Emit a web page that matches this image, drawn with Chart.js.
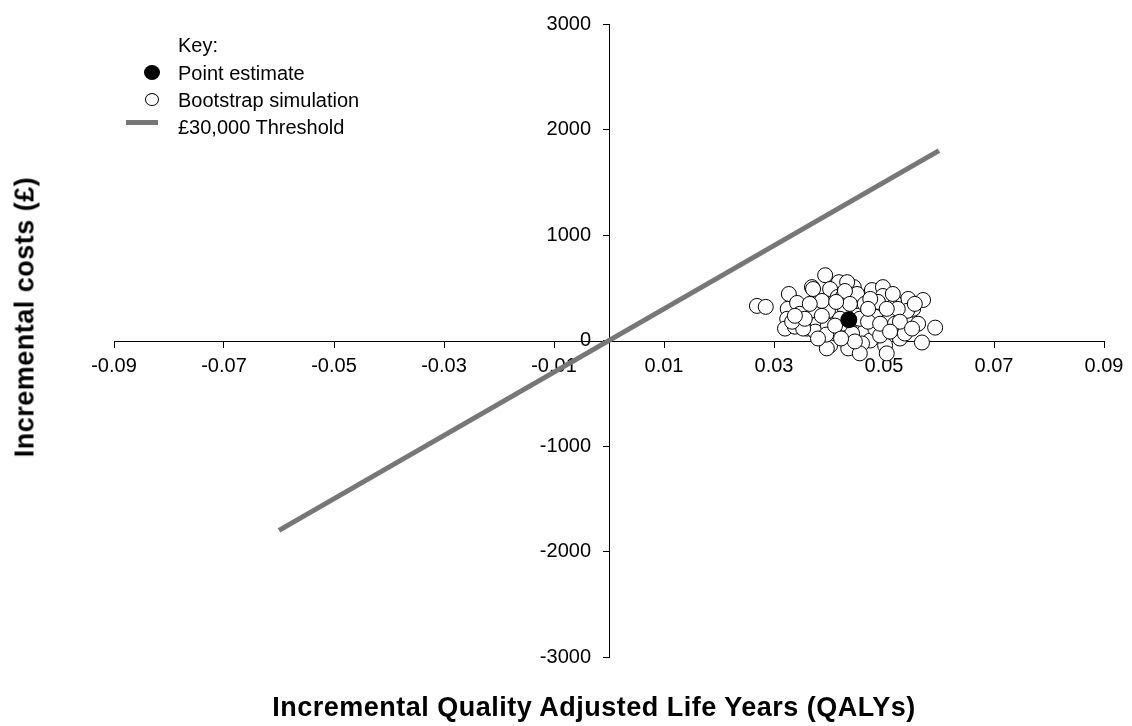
<!DOCTYPE html>
<html>
<head>
<meta charset="utf-8">
<script src="https://cdn.jsdelivr.net/npm/chart.js@4.4.1/dist/chart.umd.min.js"></script>
<style>
  body { margin: 0; background: #fff; }
  #wrap { position: relative; width: 1132px; height: 726px; font-family: "Liberation Sans", Arial, sans-serif; color: #000; }
  #plot { position: absolute; left: 0; top: 0; }
  .ttl { position: absolute; font-weight: bold; font-size: 27px; letter-spacing: 0.5px; white-space: nowrap; }
  #xTitle { left: 594px; top: 707px; transform: translate(-50%, -50%); }
  #yTitle { left: 25px; top: 317px; transform: translate(-50%, -50%) rotate(-90deg); }
  #key { position: absolute; left: 0; top: 0; font-size: 20px; }
  #key div { position: absolute; white-space: nowrap; }
  .sym { position: absolute; box-sizing: border-box; }
</style>
</head>
<body>
<div id="wrap">
  <canvas id="plot" width="1132" height="726"></canvas>
  <div class="ttl" id="xTitle">Incremental Quality Adjusted Life Years (QALYs)</div>
  <div class="ttl" id="yTitle">Incremental costs (£)</div>
  <div id="key"></div>
</div>
<script>
// Cost-effectiveness plane: bootstrap cloud, point estimate, £30,000 threshold line.
const xTicks = [-0.09, -0.07, -0.05, -0.03, -0.01, 0.01, 0.03, 0.05, 0.07, 0.09];
const yTicks = [-3000, -2000, -1000, 0, 1000, 2000, 3000];

const pointEstimateX = [0.0436];
const pointEstimateY = [197];

const bootX = [
  0.0269, 0.0285, 0.0393, 0.0327, 0.0369, 0.0418, 0.0402, 0.0445, 0.0478, 0.0498,
  0.0544, 0.0571, 0.0553, 0.0518, 0.0498, 0.0451, 0.0416, 0.0325, 0.0342, 0.0375,
  0.0324, 0.0320, 0.0338, 0.0360, 0.0380, 0.0402, 0.0415, 0.0398, 0.0402, 0.0402,
  0.0451, 0.0465, 0.0475, 0.0496, 0.0502, 0.0505, 0.0529, 0.0542, 0.0562, 0.0569,
  0.0593, 0.0511, 0.0487, 0.0438, 0.0456, 0.0425, 0.0375, 0.0451, 0.0516, 0.0542,
  0.0371, 0.0425, 0.0353, 0.0398, 0.0396, 0.0442, 0.0433, 0.0520, 0.0484, 0.0387,
  0.0429, 0.0465, 0.0489, 0.0347, 0.0411, 0.0460, 0.0435, 0.0484, 0.0420, 0.0471,
  0.0525, 0.0365, 0.0395, 0.0429, 0.0493, 0.0538, 0.0333, 0.0380, 0.0475, 0.0505,
  0.0438, 0.0556, 0.0456, 0.0413, 0.0356, 0.0387, 0.0411, 0.0471, 0.0493, 0.0529,
  0.0551, 0.0447, 0.0422, 0.0338, 0.0511
];
const bootY = [
  328, 319, 619, 441, 506, 553, 488, 506, 478, 506,
  394, 384, 300, 375, 422, 375, 413, 300, 356, 281,
  206, 113, 131, 113, 159, 169, 300, 281, 0, -47,
  84, 84, 0, 178, -47, -122, 19, 169, 159, -19,
  122, 234, 281, 94, 206, 159, 84, 441, 441, 281,
  488, 413, 113, 141, -75, 66, 553, 159, 225, 375,
  300, 347, 366, 253, 66, -28, -75, 113, 206, 178,
  300, 347, 56, 469, 47, 66, 178, 19, 394, 300,
  347, 347, -122, 366, 206, 234, 141, 300, 159, 178,
  113, -9, 19, 234, 84
];

const thresholdX = [-0.06, 0.06];
const thresholdY = [-1800, 1800];

const toPoints = (xs, ys) => xs.map((x, i) => ({ x, y: ys[i] }));

const datasets = [
  {
    label: "Point estimate",
    data: toPoints(pointEstimateX, pointEstimateY),
    backgroundColor: "#000",
    borderColor: "#000",
    pointRadius: 8,
    borderWidth: 1,
    order: 0,
  },
  {
    label: "Bootstrap simulation",
    data: toPoints(bootX, bootY),
    backgroundColor: "#fff",
    borderColor: "#000",
    pointRadius: 7.5,
    borderWidth: 1,
    order: 1,
  },
  {
    label: "£30,000 Threshold",
    type: "line",
    data: toPoints(thresholdX, thresholdY),
    borderColor: "#777777",
    borderWidth: 5,
    pointRadius: 0,
    fill: false,
    order: 2,
  },
];

const tickFont = { family: "'Liberation Sans', Arial, sans-serif", size: 20 };

new Chart(document.getElementById("plot"), {
  type: "scatter",
  data: { datasets },
  options: {
    responsive: false,
    animation: false,
    layout: { padding: { left: 114, right: 28, top: 17, bottom: 69 } },
    plugins: { legend: { display: false }, tooltip: { enabled: false } },
    scales: {
      x: {
        type: "linear",
        position: "center",
        min: -0.09,
        max: 0.09,
        afterBuildTicks: s => { s.ticks = xTicks.map(v => ({ value: v })); },
        ticks: { color: "#000", font: tickFont, padding: 8, maxRotation: 0, autoSkip: false,
                 callback: v => v.toFixed(2) },
        grid: { drawOnChartArea: false, drawTicks: true, tickLength: 6, tickColor: "#000", tickWidth: 1 },
        border: { display: true, color: "#000", width: 1 },
      },
      y: {
        type: "linear",
        position: "center",
        min: -3000,
        max: 3000,
        afterBuildTicks: s => { s.ticks = yTicks.map(v => ({ value: v })); },
        ticks: { color: "#000", font: tickFont, padding: 12, autoSkip: false,
                 callback: v => String(v) },
        grid: { drawOnChartArea: false, drawTicks: true, tickLength: 6, tickColor: "#000", tickWidth: 1 },
        border: { display: true, color: "#000", width: 1 },
      },
    },
  },
});

// HTML key, built from the dataset styles
const key = document.getElementById("key");
const addText = (txt, top) => {
  const d = document.createElement("div");
  d.textContent = txt;
  d.style.left = "178px";
  d.style.top = (top - 12) + "px";
  d.style.lineHeight = "24px";
  key.appendChild(d);
};
const addSym = (css) => {
  const s = document.createElement("div");
  s.className = "sym";
  Object.assign(s.style, css);
  key.appendChild(s);
};
addText("Key:", 45);
addText(datasets[0].label, 73);
addSym({ left: "144px", top: "65px", width: "16px", height: "15px", borderRadius: "50%", background: datasets[0].backgroundColor });
addText(datasets[1].label, 100);
addSym({ left: "145px", top: "93px", width: "14px", height: "13px", borderRadius: "50%", background: "#fff", border: "1.6px solid #000" });
addText(datasets[2].label, 127);
addSym({ left: "126px", top: "120px", width: "32px", height: "5px", background: datasets[2].borderColor });
</script>
</body>
</html>
